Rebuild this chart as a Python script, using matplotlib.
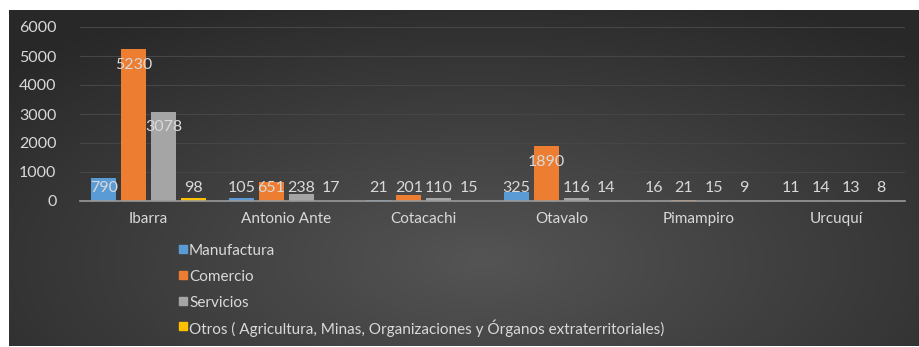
import numpy as np
import matplotlib
matplotlib.use('Agg')
import matplotlib.pyplot as plt
from matplotlib.patches import Rectangle

cantones = ["Ibarra", "Antonio Ante", "Cotacachi", "Otavalo", "Pimampiro", "Urcuquí"]
manufactura = [790, 105, 21, 325, 16, 11]
comercio = [5230, 651, 201, 1890, 21, 14]
servicios = [3078, 238, 110, 116, 15, 13]
otros = [98, 17, 15, 14, 9, 8]

series = [
    ("Manufactura", manufactura, "#5B9BD5"),
    ("Comercio", comercio, "#ED7D31"),
    ("Servicios", servicios, "#A5A5A5"),
    ("Otros ( Agricultura, Minas, Organizaciones y Órganos extraterritoriales)", otros, "#FFC000"),
]

plt.rcParams['font.family'] = ['Lato', 'DejaVu Sans']
txt = "#d9d9d9"
W, H = 919, 347

fig = plt.figure(figsize=(9.19, 3.47), dpi=100)
fig.patch.set_facecolor("white")

# dark panel with a soft radial glow behind the chart
bg = fig.add_axes([9 / W, 1 / H, 910 / W, 336 / H])
yy, xx = np.mgrid[0:1:200j, 0:1:400j]
d = np.sqrt(((xx - 0.52) / 0.7) ** 2 + ((yy - 0.25) / 0.85) ** 2)
shade = np.clip(0.33 - 0.17 * d, 0.16, 0.33)
bg.imshow(np.dstack([shade] * 3), aspect="auto", extent=[0, 1, 0, 1], origin="lower")
bg.set_axis_off()

ax = fig.add_axes([80 / W, 1 - 201 / H, 825 / W, 174 / H])
ax.patch.set_alpha(0)

x = np.arange(len(cantones))
slot = 0.218
width = 0.18
for i, (name, vals, color) in enumerate(series):
    pos = x + (i - 1.5) * slot
    ax.bar(pos, vals, width, color=color, label=name, zorder=3)
    for px, v in zip(pos, vals):
        ax.text(px, max(v - 530, 440), f"{v}", ha="center", va="center",
                color=txt, fontsize=11.5, zorder=4)

ax.set_xlim(-0.5, len(cantones) - 0.5)
ax.set_ylim(0, 6000)
ax.set_yticks(range(0, 6001, 1000))
ax.set_xticks(x)
ax.set_xticklabels(cantones)
ax.tick_params(axis="both", length=0, colors=txt, labelsize=11)
ax.tick_params(axis="y", pad=17, labelsize=11.5)
ax.tick_params(axis="x", pad=8)
ax.grid(axis="y", color="#464646", linewidth=0.8, zorder=0)
for s in ["top", "right", "left"]:
    ax.spines[s].set_visible(False)
ax.spines["bottom"].set_color("#9a9a9a")
ax.spines["bottom"].set_linewidth(1.2)
ax.spines["bottom"].set_zorder(5)

# legend rows stacked under the axis, one per series
row_y = [251, 277, 303, 328]
for (name, _, color), yp in zip(series, row_y):
    fig.patches.append(Rectangle((179 / W, 1 - (yp + 2) / H), 8 / W, 8 / H,
                                 transform=fig.transFigure, color=color))
    fig.text(189 / W, 1 - yp / H, name, color=txt, fontsize=11, va="center", ha="left")

fig.savefig("out.png", dpi=100)
